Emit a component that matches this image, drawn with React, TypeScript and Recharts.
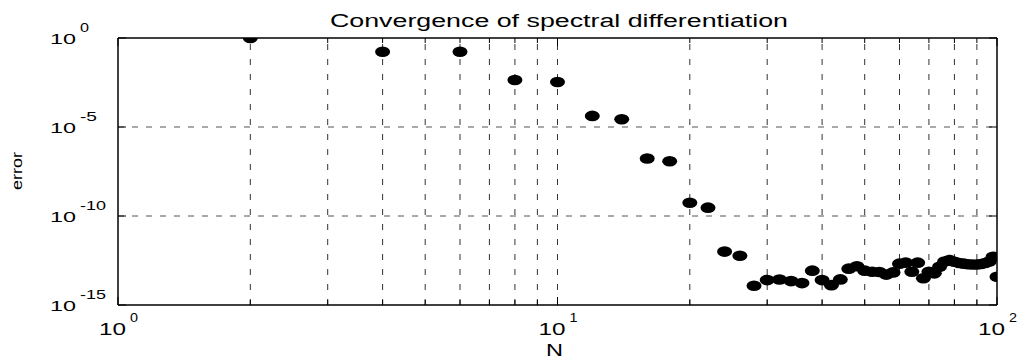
import React from 'react';
import { ScatterChart, Scatter, XAxis, YAxis, ReferenceLine } from 'recharts';

const N_VALUES = [
  2, 4, 6, 8, 10, 12, 14, 16, 18, 20,
  22, 24, 26, 28, 30, 32, 34, 36, 38, 40,
  42, 44, 46, 48, 50, 52, 54, 56, 58, 60,
  62, 64, 66, 68, 70, 72, 74, 76, 78, 80,
  82, 84, 86, 88, 90, 92, 94, 96, 98, 100,
];

const ERRORS = [
  1.0, 0.17, 0.17, 4.4e-3, 3.4e-3, 4.2e-5, 2.7e-5, 1.7e-7, 1.2e-7, 5.6e-10,
  2.95e-10, 1.0e-12, 5.9e-13, 1.2e-14, 2.5e-14, 2.7e-14, 2.2e-14, 1.7e-14, 8.5e-14, 2.5e-14,
  1.3e-14, 2.75e-14, 1.1e-13, 1.5e-13, 8.5e-14, 7.4e-14, 7.1e-14, 5.1e-14, 6.8e-14, 2.1e-13,
  2.4e-13, 7.4e-14, 2.4e-13, 3.2e-14, 7.4e-14, 6.0e-14, 1.4e-13, 2.75e-13, 3.4e-13, 2.7e-13,
  2.3e-13, 2.1e-13, 1.95e-13, 1.9e-13, 1.9e-13, 2.0e-13, 2.3e-13, 2.75e-13, 5.1e-13, 3.9e-14,
];

const X_MAJOR_TICKS = [1, 10, 100];
const X_MAJOR_EXPONENTS = ['0', '1', '2'];
const X_GRID = [2, 3, 4, 5, 6, 7, 8, 9, 10, 20, 30, 40, 50, 60, 70, 80, 90];
const X_ALL_TICKS = [1, 2, 3, 4, 5, 6, 7, 8, 9, 10, 20, 30, 40, 50, 60, 70, 80, 90, 100];

const Y_TICKS = [1, 1e-5, 1e-10, 1e-15];
const Y_EXPONENTS = ['0', '-5', '-10', '-15'];
const Y_GRID = [1e-5, 1e-10];
const Y_MAX = 1;
const X_MAX = 100;

const TITLE = 'Convergence of spectral differentiation';
const X_LABEL = 'N';
const Y_LABEL = 'error';

const data = N_VALUES.map((n, i) => ({ n, err: ERRORS[i] }));

const FONT = '"Liberation Sans", Arial, Helvetica, sans-serif';

const expWidth = (s: string) => s.replace('-', '').length * 9 + (s.includes('-') ? 8 : 0);

const BottomTick = (props: any) => {
  const { x, y, payload } = props;
  const idx = X_MAJOR_TICKS.indexOf(payload.value);
  const len = idx >= 0 ? 8 : 5;
  return (
    <g>
      <line x1={x} y1={y} x2={x} y2={y - len} stroke="#000" strokeWidth={1} />
      {idx >= 0 && (
        <g fontFamily={FONT} fill="#000">
          <text x={x - 19} y={y + 30} fontSize={16} textLength={27} lengthAdjust="spacingAndGlyphs">
            10
          </text>
          <text x={x + 12} y={y + 17} fontSize={13} textLength={8} lengthAdjust="spacingAndGlyphs">
            {X_MAJOR_EXPONENTS[idx]}
          </text>
        </g>
      )}
    </g>
  );
};

const TopTick = (props: any) => {
  const { x, y, payload } = props;
  const major = X_MAJOR_TICKS.indexOf(payload.value) >= 0;
  const len = major ? 8 : 5;
  return <line x1={x} y1={y} x2={x} y2={y + len} stroke="#000" strokeWidth={1} />;
};

const LeftTick = (props: any) => {
  const { x, y, payload } = props;
  const idx = Y_TICKS.indexOf(payload.value);
  const exp = idx >= 0 ? Y_EXPONENTS[idx] : '';
  return (
    <g>
      <line x1={x} y1={y} x2={x + 8} y2={y} stroke="#000" strokeWidth={1} />
      <g fontFamily={FONT} fill="#000">
        <text x={x - 68} y={y + 5.5} fontSize={15} textLength={26} lengthAdjust="spacingAndGlyphs">
          10
        </text>
        <text x={x - 38} y={y - 6} fontSize={13} textLength={expWidth(exp)} lengthAdjust="spacingAndGlyphs">
          {exp}
        </text>
      </g>
    </g>
  );
};

const RightTick = (props: any) => {
  const { x, y } = props;
  return <line x1={x} y1={y} x2={x - 8} y2={y} stroke="#000" strokeWidth={1} />;
};

const Dot = (props: any) => {
  const { cx, cy } = props;
  if (cx == null || cy == null) return null;
  return <ellipse cx={cx} cy={cy} rx={7.5} ry={5.3} fill="#000" />;
};

export default function App() {
  return (
    <div style={{ position: 'absolute', left: 0, top: 0, width: 1020, height: 360, background: '#fff' }}>
      <ScatterChart width={1020} height={360} margin={{ top: 37, right: 22, bottom: 0, left: 0 }}>
        <XAxis
          xAxisId="b"
          dataKey="n"
          type="number"
          scale="log"
          domain={[1, 100]}
          ticks={X_ALL_TICKS}
          interval={0}
          orientation="bottom"
          height={55}
          tickSize={0}
          tickMargin={0}
          tickLine={false}
          axisLine={{ stroke: '#000', strokeWidth: 1.5 }}
          tick={<BottomTick />}
          allowDataOverflow
        />
        <XAxis
          xAxisId="t"
          dataKey="n"
          type="number"
          scale="log"
          domain={[1, 100]}
          ticks={X_ALL_TICKS}
          interval={0}
          orientation="top"
          height={1}
          tickSize={0}
          tickMargin={0}
          tickLine={false}
          axisLine={false}
          tick={<TopTick />}
          allowDataOverflow
        />
        <YAxis
          yAxisId="l"
          dataKey="err"
          type="number"
          scale="log"
          domain={[1e-15, 1]}
          ticks={Y_TICKS}
          interval={0}
          orientation="left"
          width={118}
          tickSize={0}
          tickMargin={0}
          tickLine={false}
          axisLine={{ stroke: '#000', strokeWidth: 1.5 }}
          tick={<LeftTick />}
          allowDataOverflow
        />
        <YAxis
          yAxisId="r"
          dataKey="err"
          type="number"
          scale="log"
          domain={[1e-15, 1]}
          ticks={Y_TICKS}
          interval={0}
          orientation="right"
          width={1}
          tickSize={0}
          tickMargin={0}
          tickLine={false}
          axisLine={false}
          tick={<RightTick />}
          allowDataOverflow
        />
        {X_GRID.map((v) => (
          <ReferenceLine
            key={'gx' + v}
            x={v}
            xAxisId="b"
            yAxisId="l"
            stroke="#333"
            strokeWidth={1}
            strokeDasharray="6 9"
          />
        ))}
        {Y_GRID.map((v) => (
          <ReferenceLine
            key={'gy' + v}
            y={v}
            xAxisId="b"
            yAxisId="l"
            stroke="#555"
            strokeWidth={1}
            strokeDasharray="6 8"
          />
        ))}
        <ReferenceLine y={Y_MAX} xAxisId="b" yAxisId="l" stroke="#000" strokeWidth={1.5} />
        <ReferenceLine x={X_MAX} xAxisId="b" yAxisId="l" stroke="#000" strokeWidth={1.5} />
        <Scatter
          data={data}
          xAxisId="b"
          yAxisId="l"
          fill="#000"
          shape={<Dot />}
          isAnimationActive={false}
        />
      </ScatterChart>
      <svg
        width={1020}
        height={360}
        style={{ position: 'absolute', left: 0, top: 0, pointerEvents: 'none' }}
      >
        <g fontFamily={FONT} fill="#000">
          <text x={330} y={26.5} fontSize={18} textLength={458} lengthAdjust="spacingAndGlyphs">
            {TITLE}
          </text>
          <text x={546} y={356} fontSize={16} textLength={17} lengthAdjust="spacingAndGlyphs">
            {X_LABEL}
          </text>
          <text
            x={0}
            y={0}
            fontSize={14}
            textAnchor="middle"
            transform="translate(22, 171) rotate(-90)"
            textLength={38}
            lengthAdjust="spacingAndGlyphs"
          >
            {Y_LABEL}
          </text>
        </g>
      </svg>
    </div>
  );
}
